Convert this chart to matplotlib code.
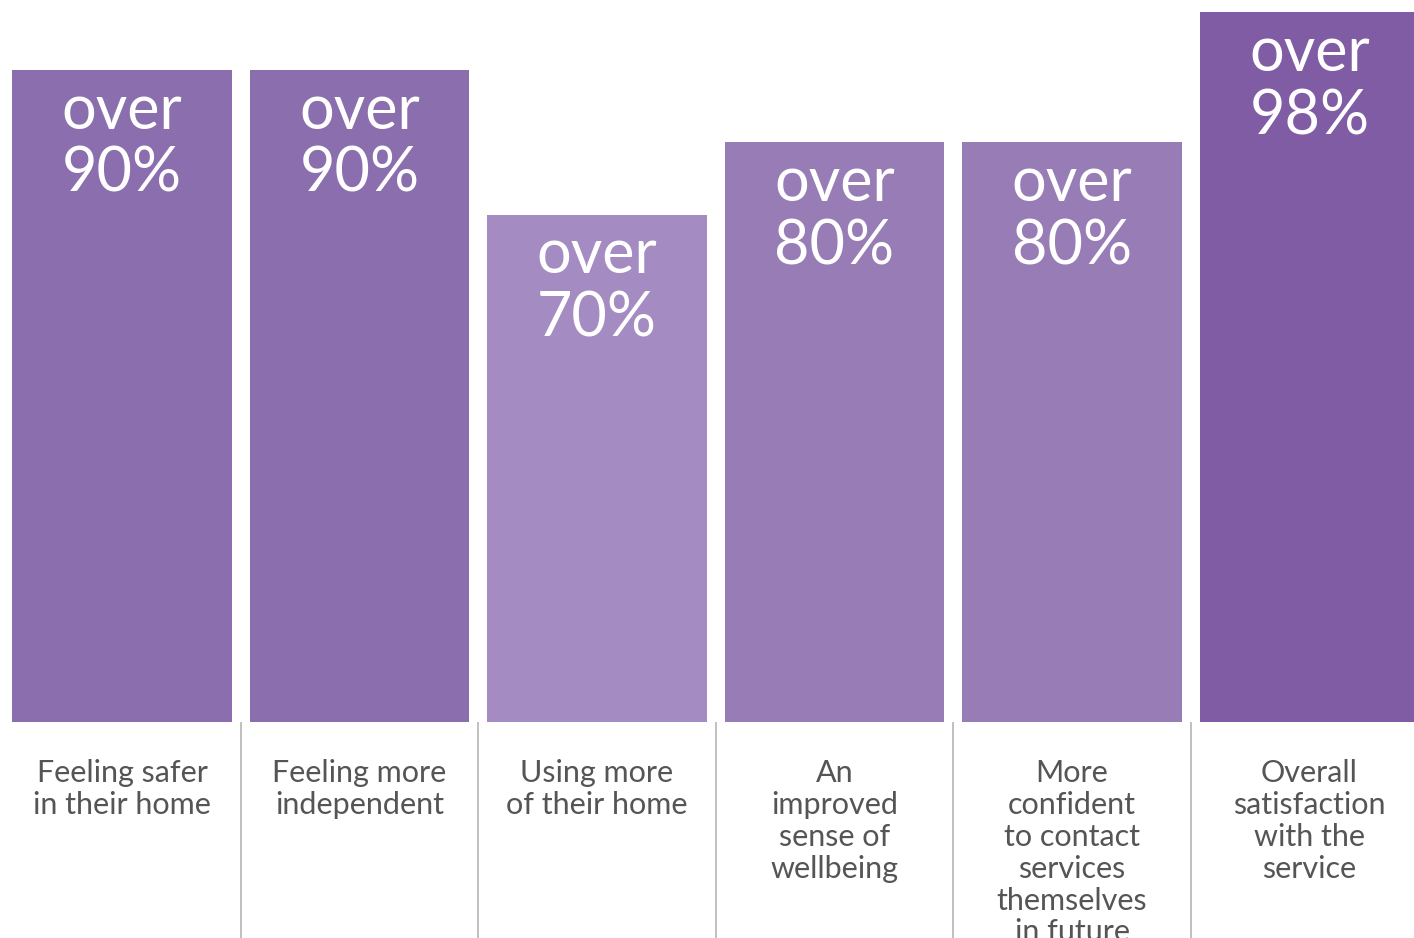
import matplotlib
matplotlib.use("Agg")
import matplotlib.pyplot as plt

# survey results, per outcome
categories = ["Feeling safer\nin their home",
              "Feeling more\nindependent",
              "Using more\nof their home",
              "An\nimproved\nsense of\nwellbeing",
              "More\nconfident\nto contact\nservices\nthemselves\nin future",
              "Overall\nsatisfaction\nwith the\nservice"]
values = [90, 90, 70, 80, 80, 98]
value_labels = ["over\n90%", "over\n90%", "over\n70%", "over\n80%", "over\n80%", "over\n98%"]
colors = ["#8b6ead", "#8b6ead", "#a48bc2", "#977cb6", "#977cb6", "#805ca5"]

plt.rcParams['font.family'] = ['Lato', 'DejaVu Sans']

fig = plt.figure(figsize=(14.14, 9.38), dpi=100)
ax = fig.add_axes([0, 0, 1, 1])

x = list(range(len(values)))
ax.bar(x, values, width=0.926, color=colors, linewidth=0)

# big white figures inside the bars
for xi, v, lab in zip(x, values, value_labels):
    ax.annotate(lab, (xi, v), xytext=(0, -9), textcoords="offset points",
                ha="center", va="top", color="white", fontsize=44,
                linespacing=1.14)

# category labels under the bars (last one runs off the bottom, as in the original)
for xi, lab in zip(x, categories):
    ax.text(xi, -5.1, lab, ha="center", va="top", color="#555555",
            fontsize=22, linespacing=1.17, clip_on=True)

# thin separators between the labels
ax.vlines([xi + 0.5 for xi in x[:-1]], -40, 0, color="#b5b5b5", linewidth=1.2)

ax.set_xlim(-0.5137, 5.44)
ax.set_ylim(-29.82, 99.67)
ax.axis("off")

fig.savefig("out.png", dpi=100)
